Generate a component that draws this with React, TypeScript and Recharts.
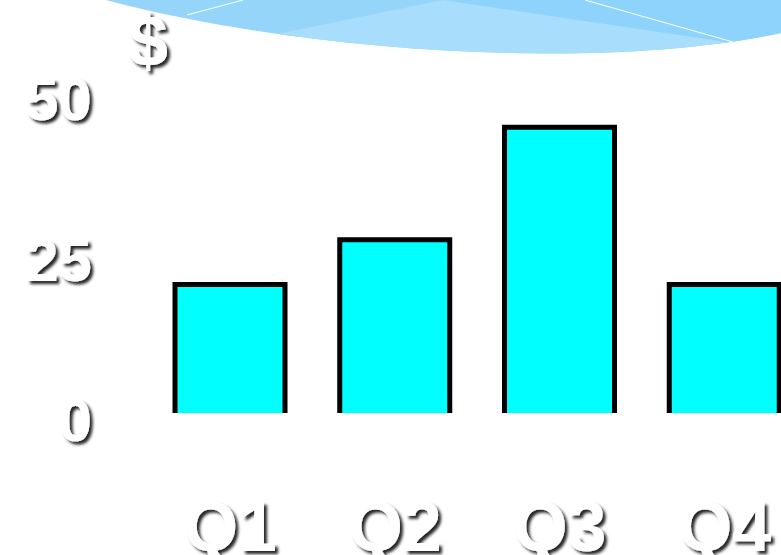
import React from "react";
import { BarChart, Bar, XAxis, YAxis, Label } from "recharts";

const quarters = ["Q1", "Q2", "Q3", "Q4"];
const amounts = [20, 27, 44.5, 20];
const yTicks = [0, 25, 50];
const yMax = 50;
const unitLabel = "$";

const data = quarters.map((q, i) => ({ name: q, value: amounts[i] }));

const FONT = '"Liberation Sans", Arial, sans-serif';

// bar: cyan fill, black outline on top and sides only
const OpenBar = (props: any) => {
  const { x, y, width, height } = props;
  if (height <= 0) return null;
  return (
    <g>
      <rect x={x} y={y} width={width} height={height} fill="#00FFFF" />
      <path
        d={`M${x},${y + height} V${y} H${x + width} V${y + height}`}
        fill="none"
        stroke="#000"
        strokeWidth={5}
      />
    </g>
  );
};

const YTick = (props: any) => {
  const { x, y, payload } = props;
  return (
    <text
      x={x}
      y={y}
      dx={-56}
      dy={28}
      textAnchor="end"
      fill="#fff"
      fontFamily={FONT}
      fontWeight="bold"
      fontSize={60}
      filter="url(#txtShadow)"
    >
      {payload.value}
    </text>
  );
};

const XTick = (props: any) => {
  const { x, y, payload } = props;
  return (
    <text
      x={x}
      y={y}
      dy={138}
      textAnchor="middle"
      fill="#fff"
      fontFamily={FONT}
      fontWeight="bold"
      fontSize={70}
      filter="url(#txtShadow)"
    >
      {payload.value}
    </text>
  );
};

const DollarLabel = (props: any) => {
  const vb = props.viewBox || {};
  return (
    <text
      x={vb.x + vb.width}
      y={vb.y - 26}
      textAnchor="middle"
      fill="#fff"
      fontFamily={FONT}
      fontWeight="bold"
      fontSize={72}
      filter="url(#txtShadow)"
    >
      {unitLabel}
    </text>
  );
};

const Swoosh = () => (
  <svg
    width={781}
    height={555}
    style={{ position: "absolute", left: 0, top: 0 }}
  >
    <defs>
      <filter id="txtShadow" x="-20%" y="-20%" width="150%" height="150%">
        <feDropShadow dx="3" dy="3" stdDeviation="1.6" floodColor="#000" floodOpacity="0.85" />
      </filter>
      <clipPath id="bandClip">
        <path d="M106,0 C300,52 600,72 781,33 L781,0 Z" />
      </clipPath>
    </defs>
    <path d="M106,0 C300,52 600,72 781,33 L781,0 Z" fill="#95D5FA" />
    <g clipPath="url(#bandClip)">
      <polygon points="443,0 781,0 781,50" fill="#8DD3FB" />
      <polygon points="150,60 443,0 848,60" fill="#A8DDFB" />
      <line x1={187} y1={15} x2={243} y2={0} stroke="#fff" strokeWidth={1} />
      <line x1={585} y1={0} x2={733} y2={42} stroke="#fff" strokeWidth={1} />
    </g>
  </svg>
);

export default function App() {
  return (
    <div
      style={{
        position: "fixed",
        left: 0,
        top: 0,
        width: 781,
        height: 555,
        overflow: "hidden",
        background: "#fff",
      }}
    >
      <Swoosh />
      <div style={{ position: "absolute", left: 0, top: 0 }}>
        <BarChart
          width={807}
          height={555}
          data={data}
          margin={{ top: 92, right: 0, bottom: 0, left: 0 }}
        >
          <XAxis
            dataKey="name"
            height={142}
            axisLine={false}
            tickLine={false}
            tickSize={0}
            tickMargin={0}
            tick={<XTick />}
            interval={0}
          />
          <YAxis
            width={148}
            domain={[0, yMax]}
            ticks={yTicks}
            axisLine={false}
            tickLine={false}
            tickSize={0}
            tickMargin={0}
            tick={<YTick />}
            interval={0}
          >
            <Label content={<DollarLabel />} />
          </YAxis>
          <Bar dataKey="value" barSize={110} shape={<OpenBar />} isAnimationActive={false} />
        </BarChart>
      </div>
    </div>
  );
}
